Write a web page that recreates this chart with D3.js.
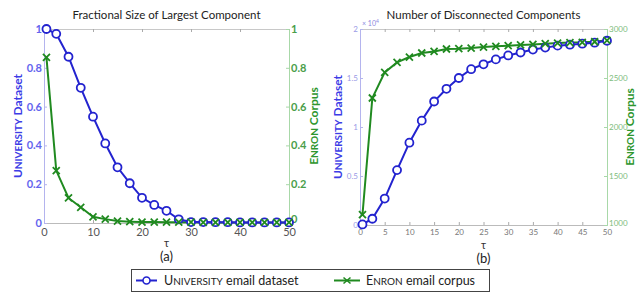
<!DOCTYPE html>
<html>
<head>
<meta charset="utf-8">
<script src="https://cdn.jsdelivr.net/npm/d3@7"></script>
<style>
  body { margin: 0; background: #fff; }
  text { font-family: Lato, "Open Sans", sans-serif; }
</style>
</head>
<body>
<div id="chart"></div>
<script>

// tau values (x axis) shared by both panels
var tau = [0.5, 2.5, 5, 7.5, 10, 12.5, 15, 17.5, 20, 22.5, 25, 27.5, 30, 32.5, 35, 37.5, 40, 42.5, 45, 47.5, 50];

// (a) fractional size of largest component
var univFrac  = [1.0, 0.975, 0.857, 0.697, 0.548, 0.41, 0.287, 0.205, 0.13, 0.093, 0.063, 0.019, 0.005, 0.005, 0.004, 0.004, 0.003, 0.003, 0.003, 0.003, 0.003];
var enronFrac = [0.854, 0.27, 0.129, 0.081, 0.032, 0.02, 0.01, 0.007, 0.005, 0.005, 0.004, 0.004, 0.004, 0.003, 0.003, 0.003, 0.003, 0.003, 0.003, 0.003, 0.003];

// (b) number of disconnected components (university in units of 10^4)
var univDisc  = [0.006, 0.064, 0.27, 0.56, 0.84, 1.065, 1.26, 1.39, 1.50, 1.59, 1.64, 1.69, 1.73, 1.76, 1.79, 1.81, 1.83, 1.84, 1.85, 1.86, 1.88];
var enronDisc = [1105, 2296, 2557, 2659, 2714, 2755, 2771, 2796, 2799, 2806, 2816, 2823, 2830, 2837, 2843, 2850, 2857, 2862, 2864, 2870, 2884];

// tick labels
var xTicksA = [0, 10, 20, 30, 40, 50];
var xTicksB = [0, 5, 10, 15, 20, 25, 30, 35, 40, 45, 50];
var yTicksA = [0, 0.2, 0.4, 0.6, 0.8, 1];
var yTicksBLeft = [0, 0.5, 1, 1.5, 2];
var yTicksBRight = [1000, 1500, 2000, 2500, 3000];

var blue = "#2323cf", green = "#208a20";

var svg = d3.select("#chart")
  .append("svg")
    .attr("width", 641)
    .attr("height", 295);

function fmt(d) { return String(d); }

function panel(opt) {
  var x = d3.scaleLinear().domain([0, 50]).range([opt.left, opt.right]);
  var yL = d3.scaleLinear().domain(opt.yLdom).range([opt.bottom, opt.top]);
  var yR = d3.scaleLinear().domain(opt.yRdom).range([opt.bottom, opt.top]);

  // top border with ticks
  var top = svg.append("g")
    .attr("transform", "translate(0," + opt.top + ")")
    .call(d3.axisTop(x).tickValues(opt.xTicks).tickSize(-3).tickFormat(""));
  top.select(".domain").attr("stroke", "#c8c8c8");
  top.selectAll(".tick line").attr("stroke", "#aaa");

  // bottom axis
  var bot = svg.append("g")
    .attr("transform", "translate(0," + opt.bottom + ")")
    .call(d3.axisBottom(x).tickValues(opt.xTicks).tickSize(-3).tickPadding(opt.xPad).tickFormat(fmt));
  bot.select(".domain").attr("stroke", "#bbb");
  bot.selectAll(".tick line").attr("stroke", "#aaa");
  bot.selectAll("text")
    .attr("font-size", opt.tickSize)
    .attr("fill", opt.xTickColor);

  // left axis
  var la = svg.append("g")
    .attr("transform", "translate(" + opt.left + ",0)")
    .call(d3.axisLeft(yL).tickValues(opt.yLticks).tickSize(-3).tickPadding(2).tickFormat(fmt));
  la.select(".domain").attr("stroke", "#b4b4ee");
  la.selectAll(".tick line").attr("stroke", "#b4b4ee");
  la.selectAll("text")
    .attr("font-size", opt.tickSize)
    .attr("font-weight", opt.tickWeight)
    .attr("fill", opt.yLcolor);

  // right axis
  var ra = svg.append("g")
    .attr("transform", "translate(" + opt.right + ",0)")
    .call(d3.axisRight(yR).tickValues(opt.yRticks).tickSize(-3).tickPadding(2).tickFormat(fmt));
  ra.select(".domain").attr("stroke", "#a8d8a8");
  ra.selectAll(".tick line").attr("stroke", "#a8d8a8");
  ra.selectAll("text")
    .attr("font-size", opt.tickSize)
    .attr("font-weight", opt.tickWeight)
    .attr("fill", opt.yRcolor);
  // lift the bottom right label a little so it clears the x tick label
  ra.selectAll(".tick")
    .filter(function(d) { return d === opt.yRdom[0]; })
    .select("text")
    .attr("dy", opt.lowDy);

  // lines
  var ptsU = tau.map(function(t, i) { return [t, opt.univ[i]]; });
  var ptsE = tau.map(function(t, i) { return [t, opt.enron[i]]; });

  svg.append("path")
    .datum(ptsE)
    .attr("fill", "none")
    .attr("stroke", green)
    .attr("stroke-width", 2)
    .attr("d", d3.line().x(function(d) { return x(d[0]); }).y(function(d) { return yR(d[1]); }));

  svg.append("path")
    .datum(ptsU)
    .attr("fill", "none")
    .attr("stroke", blue)
    .attr("stroke-width", 2)
    .attr("d", d3.line().x(function(d) { return x(d[0]); }).y(function(d) { return yL(d[1]); }));

  svg.selectAll(null)
    .data(ptsU)
    .enter()
    .append("circle")
      .attr("cx", function(d) { return x(d[0]); })
      .attr("cy", function(d) { return yL(d[1]); })
      .attr("r", 4)
      .attr("fill", "white")
      .attr("stroke", blue)
      .attr("stroke-width", 1.8);

  var s = 3.5;
  svg.selectAll(null)
    .data(ptsE)
    .enter()
    .append("path")
      .attr("d", function(d) {
        var cx = x(d[0]), cy = yR(d[1]);
        return "M" + (cx - s) + "," + (cy - s) + "L" + (cx + s) + "," + (cy + s) +
               "M" + (cx - s) + "," + (cy + s) + "L" + (cx + s) + "," + (cy - s);
      })
      .attr("stroke", green)
      .attr("stroke-width", 1.8);

  var mid = (opt.left + opt.right) / 2;
  var ymid = (opt.top + opt.bottom) / 2;

  // title
  svg.append("text")
    .attr("x", mid)
    .attr("y", 19)
    .attr("text-anchor", "middle")
    .attr("font-size", 11.5)
    .attr("fill", "#222")
    .text(opt.title);

  // tau label and panel caption
  svg.append("text")
    .attr("x", mid)
    .attr("y", opt.bottom + 24)
    .attr("text-anchor", "middle")
    .attr("font-size", 11)
    .attr("fill", "#333")
    .text("τ");
  svg.append("text")
    .attr("x", mid)
    .attr("y", opt.bottom + 38)
    .attr("text-anchor", "middle")
    .attr("font-size", 13)
    .attr("fill", "#222")
    .text(opt.caption);

  // y labels
  var lt = svg.append("text")
    .attr("transform", "translate(" + opt.yLlabelX + "," + ymid + ") rotate(-90)")
    .attr("text-anchor", "middle")
    .attr("font-size", 12)
    .attr("font-weight", "bold")
    .attr("fill", "#3c3ce6");
  lt.append("tspan").text("U");
  lt.append("tspan").attr("font-size", 10).text("NIVERSITY");
  lt.append("tspan").text(" Dataset");

  var rt = svg.append("text")
    .attr("transform", "translate(" + opt.yRlabelX + "," + ymid + ") rotate(-90)")
    .attr("text-anchor", "middle")
    .attr("font-size", 12)
    .attr("font-weight", "bold")
    .attr("fill", "#2e962e");
  rt.append("tspan").text("E");
  rt.append("tspan").attr("font-size", 10).text("NRON");
  rt.append("tspan").text(" Corpus");

  return x;
}

panel({
  left: 44, right: 289, top: 29, bottom: 223,
  yLdom: [0, 1], yRdom: [0, 1],
  xTicks: xTicksA, yLticks: yTicksA, yRticks: yTicksA,
  univ: univFrac, enron: enronFrac,
  tickSize: 11, tickWeight: "bold", xPad: 5, lowDy: "-0.05em",
  xTickColor: "#555", yLcolor: "#6464ee", yRcolor: "#4a9e4a",
  title: "Fractional Size of Largest Component",
  caption: "(a)", yLlabelX: 22, yRlabelX: 318
});

panel({
  left: 360, right: 607, top: 29, bottom: 225,
  yLdom: [0, 2], yRdom: [1000, 3000],
  xTicks: xTicksB, yLticks: yTicksBLeft, yRticks: yTicksBRight,
  univ: univDisc, enron: enronDisc,
  tickSize: 8, tickWeight: "normal", xPad: 4, lowDy: "0.1em",
  xTickColor: "#777", yLcolor: "#9a9ae6", yRcolor: "#7cbc7c",
  title: "Number of Disconnected Components",
  caption: "(b)", yLlabelX: 342, yRlabelX: 634
});

// x10^4 exponent
var ex = svg.append("text")
  .attr("x", 362)
  .attr("y", 26)
  .attr("font-size", 7)
  .attr("fill", "#8a8ae0")
  .text("× 10");
ex.append("tspan").attr("dy", -3).attr("font-size", 5).text("4");

// legend
var lg = svg.append("g");
lg.append("rect")
  .attr("x", 131.5).attr("y", 269.5)
  .attr("width", 358).attr("height", 22)
  .attr("fill", "white")
  .attr("stroke", "#444")
  .attr("stroke-width", 1);

lg.append("line")
  .attr("x1", 136).attr("x2", 157).attr("y1", 280.5).attr("y2", 280.5)
  .attr("stroke", blue).attr("stroke-width", 2);
lg.append("circle")
  .attr("cx", 146.5).attr("cy", 280.5).attr("r", 3.5)
  .attr("fill", "white").attr("stroke", blue).attr("stroke-width", 1.6);
var t1 = lg.append("text")
  .attr("x", 164).attr("y", 285)
  .attr("font-size", 12.5)
  .attr("fill", "#222");
t1.append("tspan").text("U");
t1.append("tspan").attr("font-size", 10).text("NIVERSITY");
t1.append("tspan").text(" email dataset");

lg.append("line")
  .attr("x1", 334).attr("x2", 360).attr("y1", 280.5).attr("y2", 280.5)
  .attr("stroke", green).attr("stroke-width", 2);
lg.append("path")
  .attr("d", "M343.5,277.5L350.5,283.5M343.5,283.5L350.5,277.5")
  .attr("stroke", green).attr("stroke-width", 1.6);
var t2 = lg.append("text")
  .attr("x", 366).attr("y", 285)
  .attr("font-size", 12.5)
  .attr("fill", "#222");
t2.append("tspan").text("E");
t2.append("tspan").attr("font-size", 10).text("NRON");
t2.append("tspan").text(" email corpus");

</script>
</body>
</html>
